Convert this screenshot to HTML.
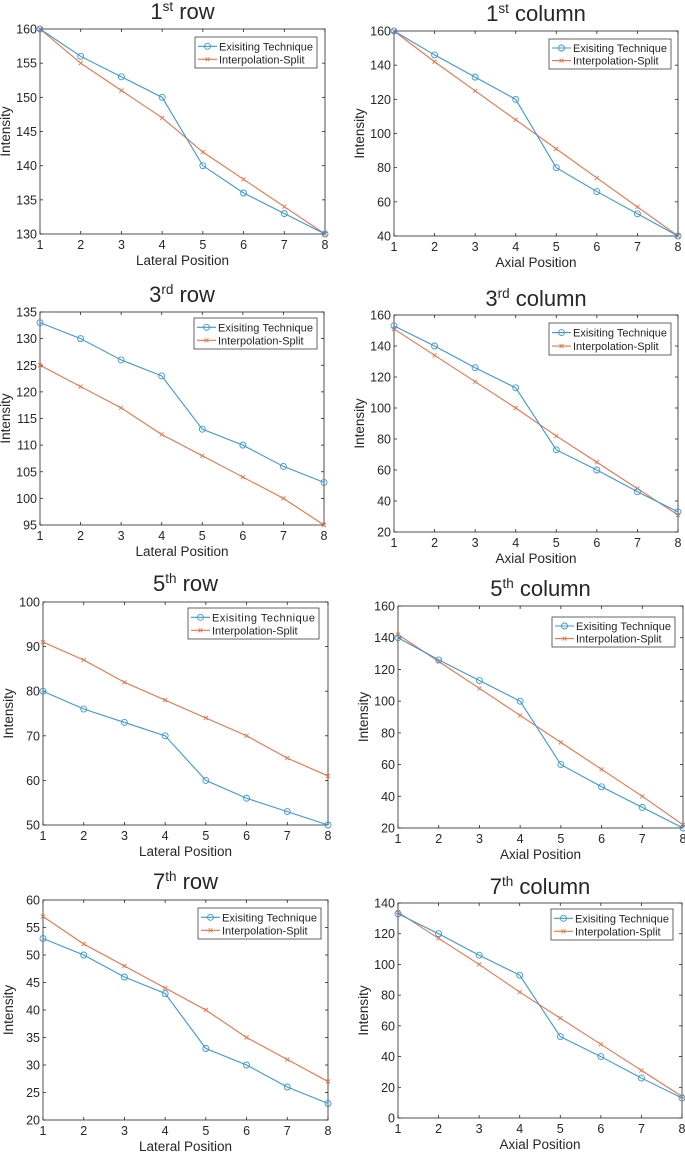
<!DOCTYPE html>
<html><head><meta charset="utf-8">
<style>
html,body{margin:0;padding:0;background:#fff;}
svg{display:block;}
text{font-family:"Liberation Sans",sans-serif;fill:#262626;}
</style></head>
<body>
<svg id="fig" width="685" height="1153" viewBox="0 0 685 1153" xmlns="http://www.w3.org/2000/svg"></svg>
<script>
const categories = [1,2,3,4,5,6,7,8];
const p1Existing = [160,156,153,150,140,136,133,130];
const p1Interp = [160,155,151,147,142,138,134,130];
const p1Ticks = [130,135,140,145,150,155,160];
const p2Existing = [160,146,133,120,80,66,53,40];
const p2Interp = [160,142,125,108,91,74,57,40];
const p2Ticks = [40,60,80,100,120,140,160];
const p3Existing = [133,130,126,123,113,110,106,103];
const p3Interp = [125,121,117,112,108,104,100,95];
const p3Ticks = [95,100,105,110,115,120,125,130,135];
const p4Existing = [153,140,126,113,73,60,46,33];
const p4Interp = [151,134,117,100,82,65,48,31];
const p4Ticks = [20,40,60,80,100,120,140,160];
const p5Existing = [80,76,73,70,60,56,53,50];
const p5Interp = [91,87,82,78,74,70,65,61];
const p5Ticks = [50,60,70,80,90,100];
const p6Existing = [140,126,113,100,60,46,33,20];
const p6Interp = [142,125,108,91,74,57,40,22];
const p6Ticks = [20,40,60,80,100,120,140,160];
const p7Existing = [53,50,46,43,33,30,26,23];
const p7Interp = [57,52,48,44,40,35,31,27];
const p7Ticks = [20,25,30,35,40,45,50,55,60];
const p8Existing = [133,120,106,93,53,40,26,13];
const p8Interp = [134,117,100,82,65,48,31,14];
const p8Ticks = [0,20,40,60,80,100,120,140];

const panels = [
 {id:'row-1',num:'1',sup:'st',word:'row',xl:'Lateral Position',L:40,R:325,T:29,B:234,ty:19,lg:[195,37,122,31],e:p1Existing,i:p1Interp,t:p1Ticks},
 {id:'column-1',num:'1',sup:'st',word:'column',xl:'Axial Position',L:394,R:678,T:31,B:236,ty:21,lg:[549,39,122,30],e:p2Existing,i:p2Interp,t:p2Ticks},
 {id:'row-3',num:'3',sup:'rd',word:'row',xl:'Lateral Position',L:40,R:324,T:312,B:525,ty:302,lg:[194,318,123,31],e:p3Existing,i:p3Interp,t:p3Ticks},
 {id:'column-3',num:'3',sup:'rd',word:'column',xl:'Axial Position',L:394,R:678,T:315,B:532,ty:306,lg:[549,323,122,32],e:p4Existing,i:p4Interp,t:p4Ticks},
 {id:'row-5',num:'5',sup:'th',word:'row',xl:'Lateral Position',L:43,R:328,T:602,B:825,ty:591,lg:[188,608,131,31],e:p5Existing,i:p5Interp,t:p5Ticks},
 {id:'column-5',num:'5',sup:'th',word:'column',xl:'Axial Position',L:398,R:683,T:606,B:828,ty:596,lg:[552,617,123,30],e:p6Existing,i:p6Interp,t:p6Ticks},
 {id:'row-7',num:'7',sup:'th',word:'row',xl:'Lateral Position',L:43,R:328,T:900,B:1120,ty:889,lg:[198,908,123,31],e:p7Existing,i:p7Interp,t:p7Ticks},
 {id:'column-7',num:'7',sup:'th',word:'column',xl:'Axial Position',L:398,R:682,T:903,B:1118,ty:894,lg:[551,909,122,31],e:p8Existing,i:p8Interp,t:p8Ticks}
];
const NS='http://www.w3.org/2000/svg';
const svg=document.getElementById('fig');
function mk(tag,attrs,parent,txt){const el=document.createElementNS(NS,tag);for(const k in attrs)el.setAttribute(k,attrs[k]);if(txt!==undefined)el.textContent=txt;parent.appendChild(el);return el;}
const BLUE='#3d98d6', ORANGE='#e8744a';
panels.forEach(p=>{
 const g=mk('g',{},svg);
 
 
 const ymin=p.t[0], ymax=p.t[p.t.length-1];
 const xs=v=>p.L+(v-1)/(categories.length-1)*(p.R-p.L);
 const ys=v=>p.B-(v-ymin)/(ymax-ymin)*(p.B-p.T);
 const tt=mk('text',{x:(p.L+p.R)/2,y:p.ty,'text-anchor':'middle','font-size':'22','fill':'#000'},g);
 
 
 mk('tspan',{},tt,p.num);
 mk('tspan',{'font-size':'13.5','dy':'-8'},tt,p.sup);
 mk('tspan',{'dy':'8'},tt,' '+p.word);
 const box=mk('rect',{x:p.L,y:p.T,width:p.R-p.L,height:p.B-p.T,fill:'#fff',stroke:'#262626','stroke-width':'0.8'},g);
 
 
 p.t.forEach(v=>{
  const y=ys(v);
  mk('line',{x1:p.L,y1:y,x2:p.L+3,y2:y,stroke:'#262626','stroke-width':'0.8'},g);
  mk('line',{x1:p.R,y1:y,x2:p.R-3,y2:y,stroke:'#262626','stroke-width':'0.8'},g);
  const lb=mk('text',{x:p.L-3,y:y+4.5,'text-anchor':'end','font-size':'12.5'},g,String(v));
  
  
 });
 categories.forEach(c=>{
  const x=xs(c);
  mk('line',{x1:x,y1:p.B,x2:x,y2:p.B-3,stroke:'#262626','stroke-width':'0.8'},g);
  mk('line',{x1:x,y1:p.T,x2:x,y2:p.T+3,stroke:'#262626','stroke-width':'0.8'},g);
  const lb=mk('text',{x:x,y:p.B+15,'text-anchor':'middle','font-size':'12.5'},g,String(c));
  
  
 });
 const xl=mk('text',{x:(p.L+p.R)/2,y:p.B+31,'text-anchor':'middle','font-size':'13.5'},g,p.xl);
 
 
 const ylx=p.L-30, yly=(p.T+p.B)/2;
 const yl=mk('text',{x:ylx,y:yly,'text-anchor':'middle','font-size':'13.5',transform:`rotate(-90 ${ylx} ${yly})`},g,'Intensity');
 
 
 const interp=mk('polyline',{points:p.i.map((v,k)=>xs(categories[k])+','+ys(v)).join(' '),fill:'none',stroke:ORANGE,'stroke-width':'1.1'},g);
 
 
 p.i.forEach((v,k)=>{const x=xs(categories[k]),y=ys(v);
  const m=mk('path',{d:`M${x-2},${y-2}L${x+2},${y+2}M${x-2},${y+2}L${x+2},${y-2}`,stroke:ORANGE,'stroke-width':'0.9'},g);
  
  
 });
 const ex=mk('polyline',{points:p.e.map((v,k)=>xs(categories[k])+','+ys(v)).join(' '),fill:'none',stroke:BLUE,'stroke-width':'1.1'},g);
 
 
 p.e.forEach((v,k)=>{
  const c=mk('circle',{cx:xs(categories[k]),cy:ys(v),r:'3',fill:'none',stroke:BLUE,'stroke-width':'0.9'},g);
  
  
 });
 const [lx,ly,lw,lh]=p.lg;
 const lgG=mk('g',{},g);
 
 
 mk('rect',{x:lx,y:ly,width:lw,height:lh,fill:'#fff',stroke:'#262626','stroke-width':'0.7'},lgG);
 const r1=ly+lh*0.3, r2=ly+lh*0.72;
 const e1=mk('g',{},lgG);
 
 
 mk('line',{x1:lx+3,y1:r1,x2:lx+22,y2:r1,stroke:BLUE,'stroke-width':'1.1'},e1);
 mk('circle',{cx:lx+12.5,cy:r1,r:'3',fill:'none',stroke:BLUE,'stroke-width':'0.9'},e1);
 mk('text',{x:lx+24,y:r1+4,'font-size':'11','textLength':lw-28},e1,'Exisiting Technique');
 const e2=mk('g',{},lgG);
 
 
 mk('line',{x1:lx+3,y1:r2,x2:lx+22,y2:r2,stroke:ORANGE,'stroke-width':'1.1'},e2);
 mk('path',{d:`M${lx+10.5},${r2-2}L${lx+14.5},${r2+2}M${lx+10.5},${r2+2}L${lx+14.5},${r2-2}`,stroke:ORANGE,'stroke-width':'0.9'},e2);
 mk('text',{x:lx+24,y:r2+4,'font-size':'11'},e2,'Interpolation-Split');
});
</script>
</body></html>
